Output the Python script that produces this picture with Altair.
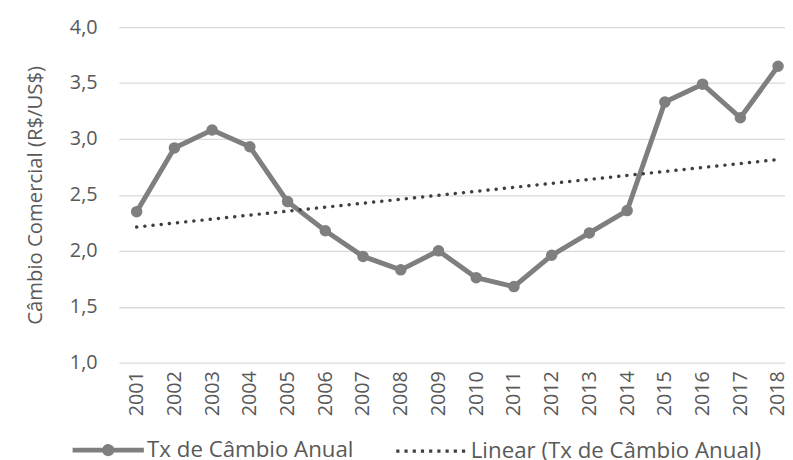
import altair as alt
import pandas as pd

years = list(range(2001, 2019))
values = [2.35, 2.92, 3.08, 2.93, 2.44, 2.18, 1.95, 1.83, 2.00, 1.76,
          1.68, 1.96, 2.16, 2.36, 3.33, 3.49, 3.19, 3.65]
y_ticks = [1.0, 1.5, 2.0, 2.5, 3.0, 3.5, 4.0]
s1 = "Tx de Câmbio Anual"
s2 = "Linear (Tx de Câmbio Anual)"

df = pd.DataFrame({"year": years, "value": values})

FONT = "Open Sans"
TXT = "#595959"

xenc = alt.X("year:Q",
             scale=alt.Scale(domain=[2000.528, 2018.184], nice=False, zero=False),
             axis=alt.Axis(values=years, labelAngle=-90, format="d", grid=False,
                           domain=False, ticks=False, labelPadding=8, title=None,
                           labelOverlap=False, labelFontSize=20, labelColor=TXT,
                           labelFont=FONT))
yenc = alt.Y("value:Q",
             scale=alt.Scale(domain=[1, 4], nice=False, zero=False),
             axis=alt.Axis(values=y_ticks,
                           labelExpr="replace(format(datum.value, '.1f'), '.', ',')",
                           grid=True, gridColor="#d9d9d9", gridWidth=1.3,
                           domain=False, ticks=False, labelPadding=22,
                           labelFontSize=20, labelColor=TXT, labelFont=FONT,
                           title="Câmbio Comercial (R$/US$)", titleFontSize=20.5,
                           titleFont=FONT, titleColor=TXT, titleFontWeight="normal",
                           titlePadding=24))

path1 = "M-1,0H1M-0.1,0A0.1,0.1 0 1,0 0.1,0A0.1,0.1 0 1,0 -0.1,0"
path2 = "M-1,0H1"
is1 = f"datum.value == '{s1}'"

legend = alt.Legend(
    title=None, orient="none", legendX=-22, legendY=416, direction="horizontal",
    labelFontSize=22.5, labelFont=FONT, labelColor=TXT, labelOffset=28,
    labelLimit=0, columnPadding=35, symbolSize=5184, symbolOpacity=1,
    symbolType=alt.ExprRef(expr=f"{is1} ? '{path1}' : '{path2}'"),
    symbolFillColor=alt.ExprRef(expr=f"{is1} ? '#7f7f7f' : 'transparent'"),
    symbolDash=alt.ExprRef(expr=f"{is1} ? [1, 0] : [3.2, 5.1]"),
    symbolStrokeWidth=alt.ExprRef(expr=f"{is1} ? 5 : 3.3"),
)

color = alt.Color("series:N",
                  scale=alt.Scale(domain=[s1, s2], range=["#7f7f7f", "#404040"]),
                  legend=legend)

base = alt.Chart(df)

line = base.transform_calculate(series=f"'{s1}'").mark_line(
    strokeWidth=5, strokeJoin="round"
).encode(x=xenc, y=yenc, color=color)

points = base.mark_point(filled=True, size=135, opacity=1, color="#7f7f7f").encode(
    x=xenc, y=yenc)

trend = base.transform_regression(
    "year", "value", method="linear", extent=[2001, 2018]
).transform_calculate(series=f"'{s2}'").mark_line(
    strokeWidth=3.5, strokeCap="round", strokeDash=[0.1, 8.2]
).encode(x=xenc, y=yenc, color=color)

chart = alt.layer(line, trend, points).properties(
    width=673, height=339,
    autosize=alt.AutoSizeParams(type="none"),
    padding={"left": 112, "top": 17, "right": 0, "bottom": 96},
).configure_view(stroke=None)

chart.save("out.html", embed_options={"renderer": "svg", "actions": False})
